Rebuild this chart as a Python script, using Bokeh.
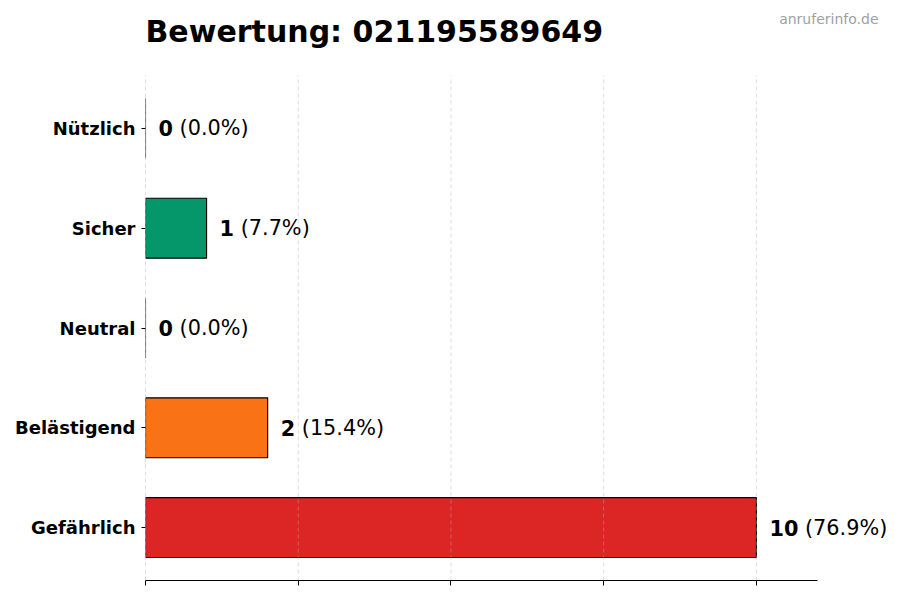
from bokeh.plotting import figure
from bokeh.models import ColumnDataSource, Range1d, FixedTicker, Label
from bokeh.core.properties import value
from bokeh.embed import file_html
from bokeh.resources import INLINE

# Data (bottom to top)
categories = ["Gefährlich", "Belästigend", "Neutral", "Sicher", "Nützlich"]
counts = [10, 2, 0, 1, 0]
percents = ["76.9%", "15.4%", "0.0%", "7.7%", "0.0%"]
colors = ["#dc2626", "#f97316", "#9ca3af", "#059669", "#10b981"]
title_text = "Bewertung: 021195589649"
watermark = "anruferinfo.de"
x_ticks = [0, 2.5, 5, 7.5, 10]

FONT = "DejaVu Sans"
VAL_FS = 20.8
ypos = list(range(len(categories)))
digit_w = 0.696 * VAL_FS
pct_offsets = [13 + len(str(c)) * digit_w + 0.318 * VAL_FS for c in counts]

# axis extents (data) and the larger frame used so texts above/right are drawn
X_MAX, Y_MIN, Y_MAX = 11, -0.53, 4.53
px_x = 672 / X_MAX
px_y = 505 / (Y_MAX - Y_MIN)
FRAME_W, FRAME_H = 755, 580

src = ColumnDataSource(dict(
    y=ypos, cnt=counts, cnt_txt=[str(c) for c in counts],
    pct_txt=["(" + p + ")" for p in percents], color=colors,
    pct_off=pct_offsets,
))
grid_src = ColumnDataSource(dict(x=x_ticks, y0=[Y_MIN] * len(x_ticks),
                                 y1=[Y_MAX] * len(x_ticks)))

p = figure(frame_width=FRAME_W, frame_height=FRAME_H, output_backend="svg",
           toolbar_location=None,
           x_range=Range1d(0, FRAME_W / px_x),
           y_range=Range1d(Y_MIN, Y_MIN + FRAME_H / px_y),
           min_border_left=145, min_border_right=0, min_border_top=0,
           min_border_bottom=18)
p.outline_line_color = None
p.background_fill_color = "white"
p.border_fill_color = "white"

p.hbar(y="y", left=0, right="cnt", height=0.6, source=src,
       fill_color="color", line_color="black", line_width=1.1)

# dashed vertical grid lines (on top of bars, faint)
p.segment(x0="x", x1="x", y0="y0", y1="y1", source=grid_src,
          line_color="#b0b0b0", line_alpha=0.55, line_dash="4 3",
          line_width=0.8, level="overlay")

p.text(x="cnt", y="y", text="cnt_txt", source=src, x_offset=13,
       text_baseline="middle", text_align="left",
       text_font=value(FONT), text_font_style="bold",
       text_font_size=f"{VAL_FS}px", text_color="black")
p.text(x="cnt", y="y", text="pct_txt", source=src, x_offset="pct_off",
       text_baseline="middle", text_align="left",
       text_font=value(FONT), text_font_size=f"{VAL_FS}px", text_color="black")

p.xgrid.grid_line_color = None
p.ygrid.grid_line_color = None

# x axis
xa = p.xaxis[0]
xa.ticker = FixedTicker(ticks=x_ticks)
xa.bounds = (0, X_MAX)
xa.major_label_overrides = {t: "" for t in x_ticks}
xa.major_label_text_font_size = "1px"
xa.major_label_standoff = 0
xa.major_tick_out = 5
xa.major_tick_in = 0
xa.minor_tick_line_color = None
xa.axis_line_color = "black"
xa.axis_line_width = 1

# y axis
ya = p.yaxis[0]
ya.ticker = FixedTicker(ticks=ypos)
ya.major_label_overrides = {i: c for i, c in zip(ypos, categories)}
ya.major_label_text_font = FONT
ya.major_label_text_font_style = "bold"
ya.major_label_text_font_size = "18px"
ya.major_label_text_color = "black"
ya.major_label_standoff = 6
ya.major_tick_out = 4
ya.major_tick_in = 0
ya.minor_tick_line_color = None
ya.axis_line_color = None

p.add_layout(Label(x=0, y=Y_MAX + 44 / px_y,
                   text=title_text, text_font=FONT, text_font_style="bold",
                   text_font_size="30px", text_color="black",
                   text_baseline="alphabetic", text_align="left"))
p.add_layout(Label(x=(878 - 145) / px_x, y=Y_MAX + 57 / px_y,
                   text=watermark, text_font=FONT,
                   text_font_size="14px", text_color="#a0a0a0",
                   text_baseline="alphabetic", text_align="right"))

open("out.html", "w").write(file_html(p, INLINE))
